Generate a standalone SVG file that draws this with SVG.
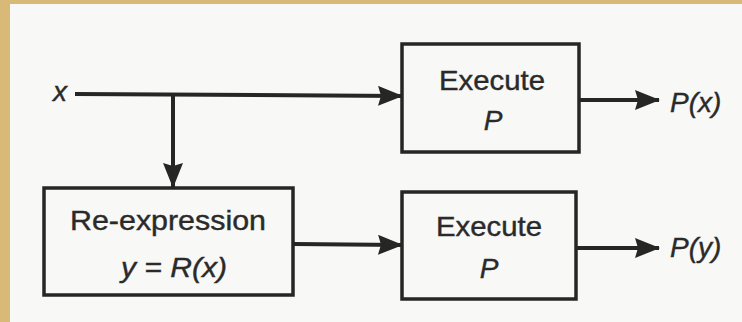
<svg xmlns="http://www.w3.org/2000/svg" width="742" height="322" viewBox="0 0 742 322">
<style>
.box{fill:none;stroke:#262626;stroke-width:3.5}
.ln{fill:none;stroke:#262626;stroke-width:4}
.t{font-family:"Liberation Sans",Arial,sans-serif;font-size:28px;fill:#2a2a2a;stroke:#2a2a2a;stroke-width:0.4;text-anchor:middle}
.i{font-style:italic}
.s{text-anchor:start}
</style>
<defs>
<marker id="ah" viewBox="0 0 25 20" refX="24" refY="10" markerUnits="userSpaceOnUse" markerWidth="25" markerHeight="20" orient="auto">
<path d="M0,0 L25,10 L0,20 L3,10 z" fill="#262626"/>
</marker>
</defs>
<rect width="742" height="322" fill="#d9b977"/>
<rect x="10" y="4" width="732" height="318" fill="#f8f8f7"/>
<g id="connectors">
<path class="ln" d="M75,94 L402,96" marker-end="url(#ah)"/>
<path class="ln" d="M173,94 L173,187" marker-end="url(#ah)"/>
<path class="ln" d="M580,100 L659,100" marker-end="url(#ah)"/>
<path class="ln" d="M294,244 L402,245" marker-end="url(#ah)"/>
<path class="ln" d="M577,248 L659,248" marker-end="url(#ah)"/>
</g>
<g id="x-label"><text class="t i" x="60" y="101">x</text></g>
<g id="execute-top">
<rect class="box" x="402" y="44" width="177" height="108"/>
<text class="t" x="492" y="90" textLength="106" lengthAdjust="spacingAndGlyphs">Execute</text>
<text class="t i" x="493" y="130">P</text>
</g>
<g id="px-label"><text class="t i s" x="670" y="112">P(x)</text></g>
<g id="reexpression">
<rect class="box" x="44" y="188" width="249" height="107"/>
<text class="t" x="168" y="230" textLength="196" lengthAdjust="spacingAndGlyphs">Re-expression</text>
<text class="t i" x="174" y="277" textLength="106" lengthAdjust="spacingAndGlyphs">y = R(x)</text>
</g>
<g id="execute-bottom">
<rect class="box" x="402" y="192" width="174" height="107"/>
<text class="t" x="489" y="236" textLength="106" lengthAdjust="spacingAndGlyphs">Execute</text>
<text class="t i" x="489" y="278">P</text>
</g>
<g id="py-label"><text class="t i s" x="670" y="257">P(y)</text></g>
</svg>
